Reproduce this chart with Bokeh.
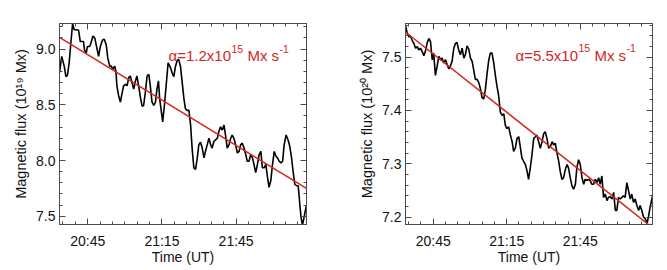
from bokeh.plotting import figure
from bokeh.layouts import row
from bokeh.models import (Range1d, FixedTicker, LinearAxis, Label,
                          PrintfTickFormatter, CustomLabelingPolicy)
from bokeh.embed import file_html
from bokeh.resources import INLINE

# ---------------- data (time in minutes after 20:00 UT) ----------------
left_t = [33.6, 34.5, 35.5, 36.2, 36.8, 37.5, 38.3, 38.9, 39.5, 40.4,
          41.3, 42.0, 42.7, 43.3, 43.7, 44.4, 44.9, 45.8, 46.3, 47.1,
          47.9, 48.7, 49.4, 50.1, 51.0, 51.7, 52.5, 53.1, 53.9, 54.5,
          55.2, 55.9, 56.4, 56.8, 57.5, 58.2, 58.7, 59.5, 60.4, 60.9,
          61.6, 62.2, 62.9, 63.6, 64.3, 64.9, 65.8, 66.4, 67.0, 67.6,
          68.3, 69.0, 69.7, 70.3, 71.0, 71.7, 72.4, 73.0, 73.6, 74.1,
          74.8, 75.3, 76.0, 76.7, 77.5, 78.5, 79.1, 79.8, 80.5, 81.2,
          81.8, 82.5, 83.2, 83.9, 84.5, 85.2, 85.9, 86.6, 87.2, 87.9,
          88.6, 89.3, 89.9, 90.6, 91.3, 92.0, 92.6, 93.3, 94.0, 94.7,
          95.3, 96.0, 96.7, 97.4, 98.0, 98.7, 99.4, 100.1, 100.7, 101.4,
          102.1, 102.8, 103.4, 104.1, 104.8, 105.5, 106.2, 106.8, 107.5, 108.2,
          108.9, 109.5, 110.2, 110.9, 111.6, 112.2, 112.9, 113.6, 114.3, 115.0,
          115.6, 116.3, 117.0, 117.7, 118.3, 119.0, 119.7, 120.4, 121.1, 121.7,
          122.4, 123.1, 123.8, 124.4, 125.2, 126.0, 126.7, 127.4, 128.0, 128.7,
          129.4, 130.1, 130.6, 131.2, 131.8, 132.5, 133.4]
left_flux = [8.788, 8.935, 8.847, 8.753, 8.765, 8.876, 9.082, 9.229, 9.176, 9.171,
             9.171, 9.068, 9.068, 9.068, 8.994, 8.965, 9.024, 9.024, 9.053, 9.118,
             9.097, 9.009, 8.935, 9.024, 9.082, 9.088, 9.038, 8.921, 8.847, 8.847,
             8.818, 8.847, 8.803, 8.671, 8.582, 8.524, 8.582, 8.671, 8.685, 8.671,
             8.744, 8.759, 8.700, 8.641, 8.715, 8.759, 8.641, 8.553, 8.488, 8.494,
             8.612, 8.759, 8.774, 8.671, 8.524, 8.494, 8.524, 8.641, 8.715, 8.553,
             8.435, 8.347, 8.494, 8.671, 8.876, 8.832, 8.788, 8.753, 8.847, 8.900,
             8.906, 8.847, 8.700, 8.553, 8.465, 8.450, 8.450, 8.318, 8.112, 7.935,
             7.921, 8.024, 8.141, 8.165, 8.112, 8.024, 8.082, 8.141, 8.200, 8.141,
             8.112, 8.171, 8.185, 8.200, 8.259, 8.303, 8.274, 8.318, 8.229, 8.112,
             8.141, 8.200, 8.229, 8.200, 8.141, 8.068, 8.082, 8.141, 8.156, 8.112,
             8.053, 7.994, 7.994, 8.053, 8.024, 7.965, 7.891, 7.965, 8.053, 8.082,
             7.935, 7.935, 7.965, 7.847, 7.759, 7.818, 7.965, 8.082, 8.038, 8.024,
             7.994, 7.979, 7.994, 8.141, 8.229, 8.185, 8.126, 8.024, 7.906, 7.788,
             7.774, 7.774, 7.641, 7.494, 7.421, 7.494, 7.600]
left_fit_t = [33.6, 133.44]
left_fit_flux = [9.106, 7.750]

right_t = [33.7, 34.4, 35.1, 35.7, 36.4, 37.1, 37.8, 38.5, 39.1, 39.8,
           40.5, 41.2, 41.8, 42.5, 43.2, 43.9, 44.6, 45.2, 45.9, 46.6,
           47.3, 48.0, 48.6, 49.3, 50.0, 50.7, 51.4, 52.0, 52.7, 53.4,
           54.1, 54.7, 55.4, 56.1, 56.8, 57.5, 58.1, 58.8, 59.5, 60.2,
           60.9, 61.5, 62.2, 62.9, 63.6, 64.3, 64.9, 65.6, 66.3, 67.0,
           67.7, 68.3, 69.0, 69.7, 70.4, 71.0, 71.7, 72.4, 73.1, 73.8,
           74.4, 75.1, 75.8, 76.5, 77.2, 77.8, 78.5, 79.2, 79.9, 80.6,
           81.2, 81.9, 82.6, 83.3, 83.9, 84.6, 85.3, 86.0, 86.7, 87.3,
           88.0, 88.7, 89.4, 90.1, 90.7, 91.4, 92.1, 92.8, 93.5, 94.1,
           94.8, 95.5, 96.2, 96.8, 97.5, 98.2, 98.9, 99.6, 100.2, 100.9,
           101.6, 102.3, 103.0, 103.6, 104.3, 105.0, 105.7, 106.4, 107.0, 107.7,
           108.4, 109.1, 109.7, 110.4, 111.1, 111.8, 112.5, 113.1, 113.8, 114.5,
           115.2, 115.9, 116.5, 117.2, 117.9, 118.6, 119.3, 119.9, 120.6, 121.3,
           122.0, 122.6, 123.3, 124.0, 124.7, 125.4, 126.0, 126.7, 127.4, 128.1,
           128.8, 129.4, 130.1, 130.8, 131.5, 132.2, 132.8, 133.5, 134.5]
right_flux = [7.5596, 7.5443, 7.5381, 7.5393, 7.5320, 7.5258, 7.5166, 7.5197, 7.5135, 7.5166,
              7.5104, 7.5025, 7.5104, 7.5258, 7.5350, 7.5289, 7.4951, 7.5074, 7.4656, 7.4828,
              7.5012, 7.4951, 7.4982, 7.4889, 7.4951, 7.4859, 7.4779, 7.4828, 7.4920, 7.5166,
              7.5258, 7.5277, 7.5135, 7.5043, 7.5166, 7.4982, 7.5043, 7.5209, 7.5148, 7.4982,
              7.4920, 7.4766, 7.4582, 7.4582, 7.4521, 7.4398, 7.4244, 7.4213, 7.4398, 7.4705,
              7.4951, 7.5074, 7.5074, 7.4889, 7.4644, 7.4459, 7.4275, 7.3967, 7.3906, 7.3937,
              7.3722, 7.3660, 7.3691, 7.3537, 7.3414, 7.3230, 7.3291, 7.3476, 7.3506, 7.3291,
              7.3107, 7.3045, 7.2984, 7.2861, 7.2707, 7.2923, 7.3168, 7.3476, 7.3506, 7.3537,
              7.3414, 7.3291, 7.3414, 7.3568, 7.3599, 7.3476, 7.3291, 7.3322, 7.3414, 7.3353,
              7.3384, 7.3199, 7.3045, 7.2861, 7.2707, 7.2738, 7.2892, 7.2984, 7.2923, 7.2738,
              7.2585, 7.2523, 7.2615, 7.2923, 7.3076, 7.2984, 7.2738, 7.2615, 7.2707, 7.2689,
              7.2707, 7.2677, 7.2615, 7.2615, 7.2707, 7.2646, 7.2738, 7.2615, 7.2769, 7.2369,
              7.2431, 7.2308, 7.2369, 7.2382, 7.2339, 7.2462, 7.2124, 7.2124, 7.2369, 7.2339,
              7.2369, 7.2400, 7.2369, 7.2646, 7.2492, 7.2339, 7.2431, 7.2277, 7.2339, 7.2216,
              7.2124, 7.2216, 7.2124, 7.2001, 7.1970, 7.1878, 7.2001, 7.2185, 7.2400]
right_fit_t = [33.7, 134.46]
right_fit_flux = [7.547, 7.180]

x_major = [45, 75, 105]
x_minor = [35, 40, 50, 55, 60, 65, 70, 80, 85, 90, 95, 100, 110, 115, 120, 125, 130]
x_labels = {45: "20:45", 75: "21:15", 105: "21:45"}

left_y_major = [7.5, 8.0, 8.5, 9.0]
left_y_minor = [7.5, 7.6, 7.7, 7.8, 7.9, 8.0, 8.1, 8.2, 8.3, 8.4, 8.5,
                8.6, 8.7, 8.8, 8.9, 9.0, 9.1, 9.2]
right_y_major = [7.2, 7.3, 7.4, 7.5]
right_y_minor = [7.20, 7.22, 7.24, 7.26, 7.28, 7.30, 7.32, 7.34, 7.36, 7.38,
                 7.40, 7.42, 7.44, 7.46, 7.48, 7.50, 7.52, 7.54, 7.56]

left_ylabel = "Magnetic flux (10¹⁹ Mx)"
right_ylabel = "Magnetic flux (10²⁰ Mx)"
xlabel = "Time (UT)"
# annotation pieces: main text and superscripts
left_alpha = ["α=1.2x10", "15", "Mx", "s", "-1"]
right_alpha = ["α=5.5x10", "15", "Mx", "s", "-1"]
alpha_is_sup = [False, True, False, False, True]

assert len(left_t) == len(left_flux)
assert len(right_t) == len(right_flux)

FONT = "Liberation Sans"
RED = "#d0281c"
AXC = "#4a4a4a"
TXT = "#111111"


def style_axis(ax, labels=True):
    ax.axis_line_color = AXC
    ax.major_tick_line_color = AXC
    ax.minor_tick_line_color = AXC
    ax.major_tick_in = 6
    ax.major_tick_out = 0
    ax.minor_tick_in = 3
    ax.minor_tick_out = 0
    ax.major_label_text_font = FONT
    ax.axis_label_text_font = FONT
    ax.axis_label_text_font_style = "normal"
    ax.axis_label_text_color = TXT
    ax.major_label_text_color = TXT
    ax.axis_label_text_font_size = "14px"
    ax.major_label_text_font_size = "14px"
    if not labels:
        ax.major_label_text_font_size = "1px"
        ax.major_label_standoff = 0
        ax.major_label_policy = CustomLabelingPolicy(
            code="for (const i of Array.from(indices)) indices.unset(i); return indices;")


def make_panel(t, flux, fit_t, fit_flux, xr, yr, ymaj, ymin, ylabel,
               alpha_pieces, ax_pos, ay_pos, width, bl, br):
    p = figure(width=width, height=267, output_backend="svg",
               toolbar_location=None, x_range=Range1d(*xr),
               y_range=Range1d(*yr), min_border_left=bl,
               min_border_right=br, min_border_top=23, min_border_bottom=40)
    p.xgrid.visible = False
    p.ygrid.visible = False
    p.outline_line_color = AXC
    p.background_fill_color = "white"
    p.border_fill_color = "white"

    xa = p.xaxis[0]
    xa.ticker = FixedTicker(ticks=x_major, minor_ticks=x_minor)
    xa.major_label_overrides = x_labels
    xa.axis_label = xlabel
    style_axis(xa)
    xa.major_label_standoff = 8
    xa.axis_label_standoff = -3

    ya = p.yaxis[0]
    ya.ticker = FixedTicker(ticks=ymaj, minor_ticks=ymin)
    ya.formatter = PrintfTickFormatter(format="%.1f")
    ya.axis_label = ylabel
    style_axis(ya)
    ya.axis_label_text_font_size = "14.5px"
    ya.major_label_standoff = 4
    ya.axis_label_standoff = 4

    top = LinearAxis(ticker=FixedTicker(ticks=x_major, minor_ticks=x_minor))
    style_axis(top, labels=False)
    p.add_layout(top, "above")
    right = LinearAxis(ticker=FixedTicker(ticks=ymaj, minor_ticks=ymin))
    style_axis(right, labels=False)
    p.add_layout(right, "right")

    p.line(t, flux, line_color="black", line_width=1.6)
    p.line(fit_t, fit_flux, line_color=RED, line_width=1.5)

    # annotation with real superscripts (offsets in screen pixels)
    main_fs, sup_fs = 15, 10.5
    offsets = [0, 63, 79, 103, 111]
    for piece, sup, off in zip(alpha_pieces, alpha_is_sup, offsets):
        p.add_layout(Label(x=ax_pos, y=ay_pos, x_offset=off,
                           y_offset=7 if sup else 0, text=piece,
                           text_color=RED, text_font=FONT,
                           text_font_size=f"{sup_fs if sup else main_fs}px",
                           text_baseline="alphabetic"))
    return p


p1 = make_panel(left_t, left_flux, left_fit_t, left_fit_flux,
                (33.6, 133.44), (7.426, 9.23), left_y_major, left_y_minor,
                left_ylabel, left_alpha, 77.66, 8.941, 346, 59, 40)
p2 = make_panel(right_t, right_flux, right_fit_t, right_fit_flux,
                (33.7, 134.46), (7.186, 7.563), right_y_major, right_y_minor,
                right_ylabel, right_alpha, 78.58, 7.5033, 320, 59, 14)

layout = row(p1, p2)
open("out.html", "w").write(file_html(layout, INLINE))
